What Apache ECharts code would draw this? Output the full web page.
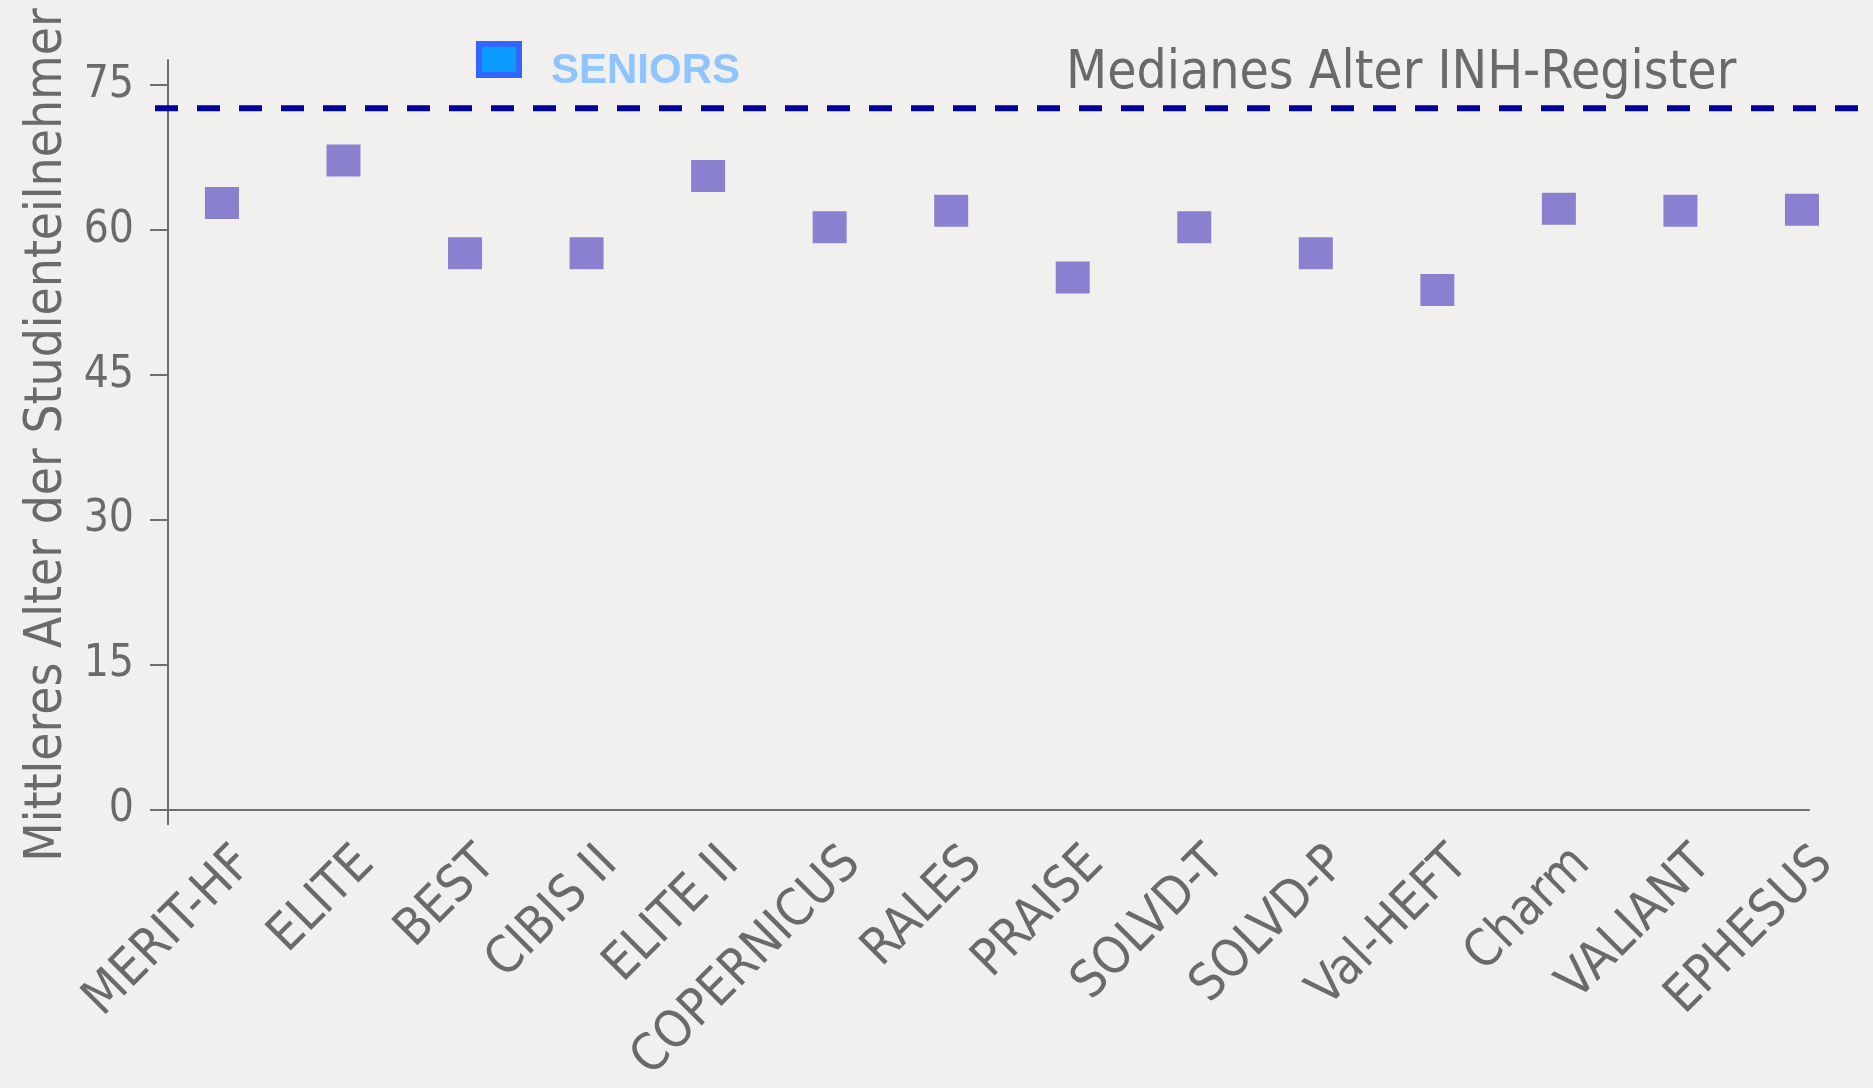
<!DOCTYPE html>
<html>
<head>
<meta charset="utf-8">
<script src="https://cdn.jsdelivr.net/npm/echarts@6/dist/echarts.min.js"></script>
<style>
html,body{margin:0;padding:0;background:#f1f0ee;}
#chart{width:1873px;height:1088px;}
</style>
</head>
<body>
<div id="chart"></div>
<script>
const categories = ['MERIT-HF','ELITE','BEST','CIBIS II','ELITE II','COPERNICUS','RALES','PRAISE','SOLVD-T','SOLVD-P','Val-HEFT','Charm','VALIANT','EPHESUS'];
const seniorAges = [62.8, 67.2, 57.6, 57.6, 65.6, 60.3, 62.0, 55.1, 60.3, 57.6, 53.8, 62.2, 62.0, 62.1];
const registryMedian = 72.6;
const yTicks = [0, 15, 30, 45, 60, 75];
const seriesName = 'SENIORS';
const medianLabel = 'Medianes Alter INH-Register';
const yAxisName = 'Mittleres Alter der Studienteilnehmer';

const FONT = '"DejaVu Sans Condensed", "Liberation Sans Narrow", "Open Sans", sans-serif';
const GREY = '#6a6a6a';
const AXIS = '#6e6e6e';
const xMin = -0.444, xMax = 13.058, yMax = 77.6;

const chart = echarts.init(document.getElementById('chart'), null, {renderer: 'canvas'});
chart.setOption({
  backgroundColor: '#f1f0ee',
  animation: false,
  title: {
    text: medianLabel,
    left: 1066, top: 48, padding: 0,
    textStyle: {fontFamily: FONT, fontSize: 53, fontWeight: 'normal', color: GREY}
  },
  legend: {
    left: 476, top: 41, padding: 0,
    itemWidth: 40, itemHeight: 31,
    data: [{
      name: seriesName, icon: 'rect',
      itemStyle: {color: '#0a9cff', borderColor: '#3366ff', borderWidth: 6}
    }],
    formatter: '{a|{name}}',
    textStyle: {
      padding: [0, 0, 0, 27],
      rich: {a: {fontFamily: '"Liberation Sans", Arial, sans-serif', fontWeight: 'bold', fontSize: 42, color: '#8ec5ff', padding: [24, 0, 0, 0]}}
    }
  },
  grid: [
    {left: 168, right: 64, top: 60, bottom: 278},
    {left: 155, right: 0, top: 60, bottom: 278},
    {left: 191, right: 41, top: 60, bottom: 278}
  ],
  xAxis: [{
    type: 'value', gridIndex: 0, min: xMin, max: xMax,
    axisLine: {show: true, onZero: false, lineStyle: {color: AXIS, width: 2}},
    axisTick: {show: true, customValues: [xMin], length: 15, lineStyle: {color: AXIS, width: 2}},
    splitLine: {show: false},
    axisLabel: {show: false}
  }, {
    type: 'value', gridIndex: 1, min: 0, max: 1, show: false
  }, {
    type: 'value', gridIndex: 2, min: xMin, max: xMax,
    axisLine: {show: false}, axisTick: {show: false}, splitLine: {show: false},
    axisLabel: {
      customValues: categories.map((c, i) => i),
      formatter: v => categories[Math.round(v)],
      rotate: 45, margin: 46,
      fontFamily: FONT, fontSize: 51, color: GREY
    }
  }],
  yAxis: [{
    type: 'value', gridIndex: 0, min: 0, max: yMax,
    name: yAxisName, nameLocation: 'middle', nameGap: 95, nameMoveOverlap: false,
    nameTextStyle: {fontFamily: FONT, fontSize: 51, color: GREY},
    axisLine: {show: true, onZero: false, lineStyle: {color: AXIS, width: 2}},
    axisTick: {show: true, customValues: yTicks, length: 18, lineStyle: {color: AXIS, width: 2}},
    splitLine: {show: false},
    axisLabel: {customValues: yTicks, margin: 34, fontFamily: FONT, fontSize: 44, color: GREY}
  }, {
    type: 'value', gridIndex: 1, min: 0, max: yMax, show: false
  }, {
    type: 'value', gridIndex: 2, min: 0, max: yMax, show: false
  }],
  series: [{
    name: seriesName,
    type: 'scatter',
    xAxisIndex: 0, yAxisIndex: 0,
    symbol: 'rect', symbolSize: [34, 32],
    itemStyle: {color: '#8a80d0', opacity: 1},
    data: seniorAges.map((v, i) => [i, v])
  }, {
    name: 'median',
    type: 'line',
    xAxisIndex: 1, yAxisIndex: 1,
    symbol: 'none',
    lineStyle: {color: '#00009c', width: 6, type: [23, 19]},
    data: [[0, registryMedian], [1, registryMedian]],
    z: 5
  }]
});
</script>
</body>
</html>
